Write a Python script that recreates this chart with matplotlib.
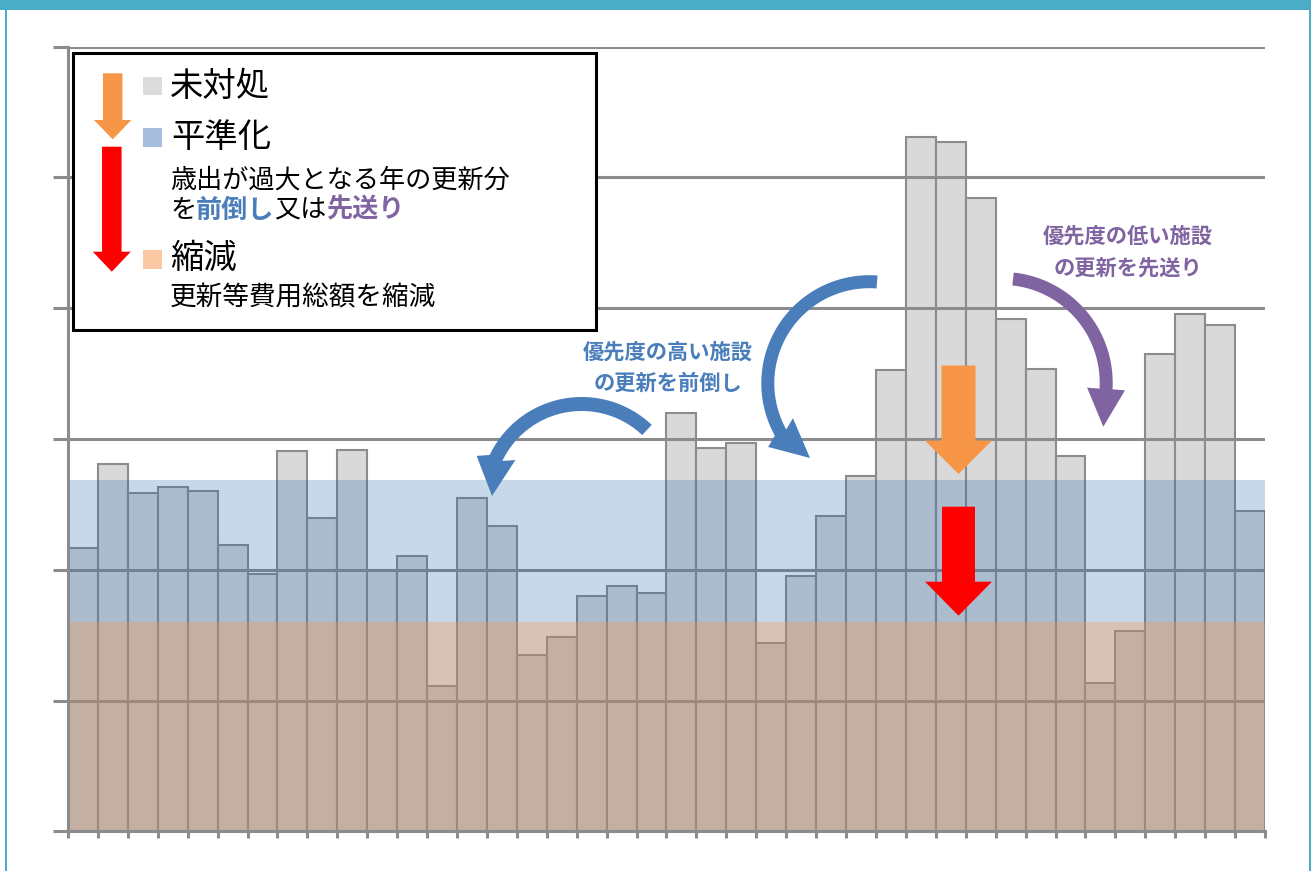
import numpy as np
import matplotlib.pyplot as plt
from matplotlib.patches import Rectangle, Polygon

plt.rcParams['font.family'] = ['Noto Sans CJK JP', 'DejaVu Sans']

# 年度ごとの更新費用（目盛り単位）
values = [2.164, 2.807, 2.585, 2.631, 2.605, 2.19, 1.966, 2.909, 2.394, 2.919,
          2.0, 2.106, 1.108, 2.547, 2.337, 1.348, 1.484, 1.80, 1.876, 1.82,
          3.199, 2.929, 2.97, 1.443, 1.952, 2.414, 2.714, 3.525, 5.312, 5.271,
          4.842, 3.921, 3.537, 2.873, 1.137, 1.532, 3.651, 3.957, 3.872, 2.452]
shrink_level = 1.603    # 縮減後の水準
level_top = 2.683       # 平準化の上限
y_max = 6

legend_labels = ['未対処', '平準化', '縮減']
legend_notes = ['歳出が過大となる年の更新分', '更新等費用総額を縮減']
note_high = ['優先度の高い施設', 'の更新を前倒し']
note_low = ['優先度の低い施設', 'の更新を先送り']

gray = '#8c8c8c'
blue = '#4a7ebb'
purple = '#8064a2'
orange = '#f79646'
red = '#ff0000'
teal = '#4bacc6'

W, H = 1311, 871
fig = plt.figure(figsize=(W / 100, H / 100), dpi=100)
ax = fig.add_axes([68 / W, 1 - 831.3 / H, (1265 - 68) / W, (831.3 - 46.7) / H])

x = np.arange(len(values))
ax.bar(x, values, width=1.0, color='#d9d9d9', edgecolor=gray, linewidth=1.5, zorder=2)
ax.set_xlim(-0.5, len(values) - 0.5)
ax.set_ylim(0, y_max)
ax.set_yticks(range(y_max + 1))
ax.set_yticklabels([])
ax.set_xticks(np.arange(len(values) + 1) - 0.5)
ax.set_xticklabels([])
ax.tick_params(axis='y', length=10.8, width=2.2, color=gray)
ax.tick_params(axis='x', length=5, width=2.2, color=gray)
for yv in range(1, y_max + 1):
    ax.axhline(yv, color=gray, lw=2.2, zorder=3)

# 縮減・平準化の帯
ax.axhspan(0, shrink_level, color=(177/255, 137/255, 111/255), alpha=0.5, lw=0, zorder=4)
ax.axhspan(shrink_level, level_top, color=(39/255, 103/255, 179/255), alpha=0.25, lw=0, zorder=4)

for s in ['top', 'right']:
    ax.spines[s].set_visible(False)
for s in ['left', 'bottom']:
    ax.spines[s].set_color(gray)
    ax.spines[s].set_linewidth(2.2)
    ax.spines[s].set_zorder(5)

# 上に重ねる注記用の軸（ピクセル座標）
ov = fig.add_axes([0, 0, 1, 1])
ov.set_xlim(0, W)
ov.set_ylim(H, 0)
ov.axis('off')


def straight_arrow(cx, top, base, tip, sw, hw, color):
    pts = [(cx - sw / 2, top), (cx + sw / 2, top), (cx + sw / 2, base), (cx + hw / 2, base),
           (cx, tip), (cx - hw / 2, base), (cx - sw / 2, base)]
    ov.add_patch(Polygon(pts, closed=True, color=color, lw=0, zorder=3))


def curved_arrow(cx, cy, r, a0, a1, w, tip, hw, color):
    th = np.radians(np.linspace(a0, a1, 80))
    outer = np.c_[cx + (r + w / 2) * np.cos(th), cy + (r + w / 2) * np.sin(th)]
    inner = np.c_[cx + (r - w / 2) * np.cos(th), cy + (r - w / 2) * np.sin(th)]
    base = np.array([cx + r * np.cos(th[-1]), cy + r * np.sin(th[-1])])
    d = np.array(tip) - base
    d = d / np.hypot(*d)
    n = np.array([-d[1], d[0]])
    c1, c2 = base + hw * n, base - hw * n
    if np.hypot(*(c1 - [cx, cy])) < r:
        c1, c2 = c2, c1
    pts = np.vstack([outer, [c1], [tip], [c2], inner[::-1]])
    ov.add_patch(Polygon(pts, closed=True, color=color, lw=0, zorder=3))


# 外枠
ov.add_patch(Rectangle((0, 0), W, 10, color=teal, lw=0))
ov.add_patch(Rectangle((4.5, 0), 2, H, color=teal, lw=0))
ov.add_patch(Rectangle((1309, 0), 2, H, color=teal, lw=0))

# 凡例ボックス
ov.add_patch(Rectangle((73, 53), 523, 277, facecolor='white', edgecolor='black', lw=2.2, zorder=1))
straight_arrow(112.7, 73.3, 120, 139.3, 19.5, 37.5, orange)
straight_arrow(111.8, 146.7, 251.7, 271.7, 19.5, 38, red)
ov.add_patch(Rectangle((143, 77), 19, 18.5, color='#dcdcdc', lw=0, zorder=2))
ov.add_patch(Rectangle((143, 128.5), 19, 18.5, color='#a6bddb', lw=0, zorder=2))
ov.add_patch(Rectangle((143, 249.5), 19, 19, color='#fac9a3', lw=0, zorder=2))
ov.text(170, 86.5, legend_labels[0], fontsize=24, va='center', ha='left', zorder=2)
ov.text(171, 138, legend_labels[1], fontsize=24, va='center', ha='left', zorder=2)
ov.text(170, 258.5, legend_labels[2], fontsize=24, va='center', ha='left', zorder=2)
ov.text(170, 180, legend_notes[0], fontsize=18.8, va='center', ha='left', zorder=2)
ov.text(170, 298, legend_notes[1], fontsize=19.2, va='center', ha='left', zorder=2)
t1 = ov.text(170, 210, 'を', fontsize=18.8, va='center', ha='left', zorder=2)
t2 = ov.annotate('前倒し', xy=(1, 0), xycoords=t1, va='bottom', ha='left', fontsize=18.8,
                 color=blue, fontweight='bold', zorder=2)
t3 = ov.annotate('又は', xy=(1, 0), xycoords=t2, va='bottom', ha='left', fontsize=18.8, zorder=2)
ov.annotate('先送り', xy=(1, 0), xycoords=t3, va='bottom', ha='left', fontsize=18.8,
            color=purple, fontweight='bold', zorder=2)

# グラフ上の矢印
straight_arrow(958.5, 365.5, 440.5, 474, 34, 67, orange)
straight_arrow(958.5, 506.7, 581.7, 615.7, 33, 67, red)
curved_arrow(581.7, 499, 95, -46.6, -154.4, 14, (492, 496), 19.5, blue)
curved_arrow(869.4, 383.3, 101.6, -85.7, -209, 13, (810, 458), 19, blue)
curved_arrow(1001.8, 382.8, 104.4, -83.8, 3.4, 13, (1103.3, 426.7), 19, purple)

ov.text(668, 351.7, note_high[0], fontsize=15.3, fontweight='bold', color=blue, ha='center', va='center')
ov.text(668, 383, note_high[1], fontsize=15.3, fontweight='bold', color=blue, ha='center', va='center')
ov.text(1128, 236, note_low[0], fontsize=15.3, fontweight='bold', color=purple, ha='center', va='center')
ov.text(1128, 268, note_low[1], fontsize=15.3, fontweight='bold', color=purple, ha='center', va='center')

fig.savefig('out.png', dpi=100)
